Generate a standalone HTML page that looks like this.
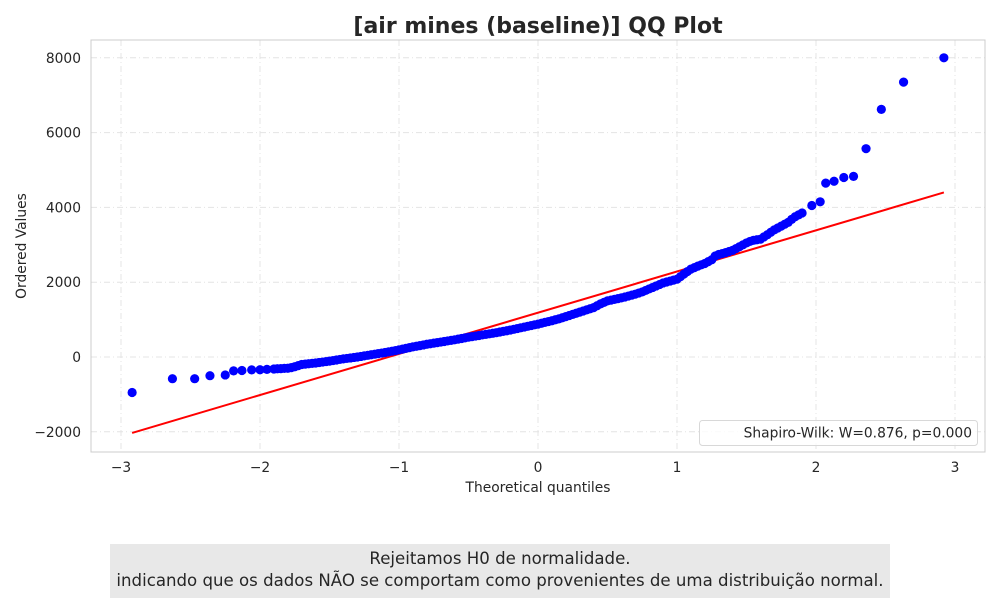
<!DOCTYPE html>
<html><head><meta charset="utf-8"><style>
body{margin:0;width:1000px;height:600px;background:#fff;overflow:hidden;font-family:"DejaVu Sans","Liberation Sans",sans-serif}
#note{position:absolute;left:110px;top:544px;width:780px;height:54px;background:#e8e8e8;color:#262626;font-size:16.6px;line-height:22px;text-align:center;padding-top:4px;box-sizing:border-box;white-space:nowrap}
</style></head><body>
<svg id="chart" width="1000" height="540" style="position:absolute;left:0;top:0" font-family="DejaVu Sans, Liberation Sans, sans-serif">
<text x="538" y="33" text-anchor="middle" font-size="22" font-weight="bold" fill="#262626">[air mines (baseline)] QQ Plot</text>
<g id="grid"></g>
<g id="ticks"></g>
<line id="fit" stroke="#ff0000" stroke-width="2"/>
<g id="pts"></g>
<rect x="91" y="40" width="894" height="412" fill="none" stroke="#cccccc" stroke-width="1"/>
<g>
<rect x="699.5" y="420.5" width="278" height="25" rx="3" fill="#fff" fill-opacity="0.8" stroke="#d8d8d8"/>
<text x="972" y="437.5" text-anchor="end" font-size="13.8" fill="#262626">Shapiro-Wilk: W=0.876, p=0.000</text>
</g>
<text x="538" y="492" text-anchor="middle" font-size="13.8" fill="#262626">Theoretical quantiles</text>
<text transform="translate(26,246) rotate(-90)" text-anchor="middle" font-size="13.8" fill="#262626">Ordered Values</text>
</svg>
<div id="note">Rejeitamos H0 de normalidade.<br>indicando que os dados NÃO se comportam como provenientes de uma distribuição normal.</div>
<script>
const tailLoQ=[-2.92,-2.63,-2.47,-2.36,-2.25,-2.19,-2.13,-2.06,-2.0,-1.95,-1.9,-1.875];
const tailLoV=[-950,-580,-580,-500,-480,-370,-360,-345,-340,-330,-320,-315];
const midV=[-310,-305,-300,-285,-260,-230,-200,-190,-180,-170,-160,-148,-135,-122,-110,-95,-80,-65,-50,-38,-25,-12,0,15,30,45,60,75,90,105,120,138,155,172,190,210,230,250,270,288,305,322,340,355,370,385,400,415,430,445,460,478,495,512,530,545,560,575,590,605,620,635,650,668,685,702,720,740,760,780,800,820,840,860,880,902,925,948,970,995,1020,1050,1080,1110,1140,1170,1200,1230,1260,1290,1320,1370,1420,1460,1500,1520,1540,1560,1580,1605,1630,1655,1680,1710,1740,1780,1820,1860,1900,1940,1980,2005,2030,2055,2080,2150,2220,2285,2350,2390,2430,2465,2500,2550,2600,2700,2740,2765,2790,2820,2850,2900,2950,3000,3050,3090,3120,3135,3150,3210,3270,3335,3400,3450,3500,3550,3600,3680,3750,3800,3850];
const midStart=-1.85, midStep=0.025;
const tailHiQ=[1.97,2.03,2.07,2.13,2.2,2.27,2.36,2.47,2.63,2.92];
const tailHiV=[4050,4150,4650,4700,4800,4830,5570,6620,7350,8000];
const fitX=[-2.92,2.92];
const fitY=[-2030,4400];
const xTicks=[-3,-2,-1,0,1,2,3];
const yTicks=[-2000,0,2000,4000,6000,8000];
const NS='http://www.w3.org/2000/svg';
function X(v){return 538+v*139;}
function Y(v){return 357-v*0.03740;}
function mk(t,a,p){const e=document.createElementNS(NS,t);for(const k in a)e.setAttribute(k,a[k]);p.appendChild(e);return e;}
const grid=document.getElementById('grid'),ticks=document.getElementById('ticks'),pts=document.getElementById('pts');
xTicks.forEach(t=>{
 const l=mk('line',{x1:X(t),x2:X(t),y1:40,y2:452,stroke:'#e4e4e4','stroke-dasharray':'6 3 1 3'},grid);
 
 
 const s=mk('text',{x:X(t),y:472,'text-anchor':'middle','font-size':13.8,fill:'#262626'},ticks);
 s.textContent=(t<0?'\u2212':'')+Math.abs(t);
 
 
});
yTicks.forEach(t=>{
 const l=mk('line',{x1:91,x2:985,y1:Y(t),y2:Y(t),stroke:'#e4e4e4','stroke-dasharray':'6 3 1 3'},grid);
 
 
 const s=mk('text',{x:81,y:Y(t)+5,'text-anchor':'end','font-size':13.8,fill:'#262626'},ticks);
 s.textContent=(t<0?'\u2212':'')+Math.abs(t);
 
 
});
const f=document.getElementById('fit');
f.setAttribute('x1',X(fitX[0]));f.setAttribute('x2',X(fitX[1]));
f.setAttribute('y1',Y(fitY[0]));f.setAttribute('y2',Y(fitY[1]));
const Q=[],V=[];
tailLoQ.forEach((q,i)=>{Q.push(q);V.push(tailLoV[i]);});
midV.forEach((v,i)=>{Q.push(midStart+i*midStep);V.push(v);});
tailHiQ.forEach((q,i)=>{Q.push(q);V.push(tailHiV[i]);});
Q.forEach((q,i)=>{
 const c=mk('circle',{cx:X(q),cy:Y(V[i]),r:4.6,fill:'#0000ff'},pts);
 
 
});
</script>
</body></html>
